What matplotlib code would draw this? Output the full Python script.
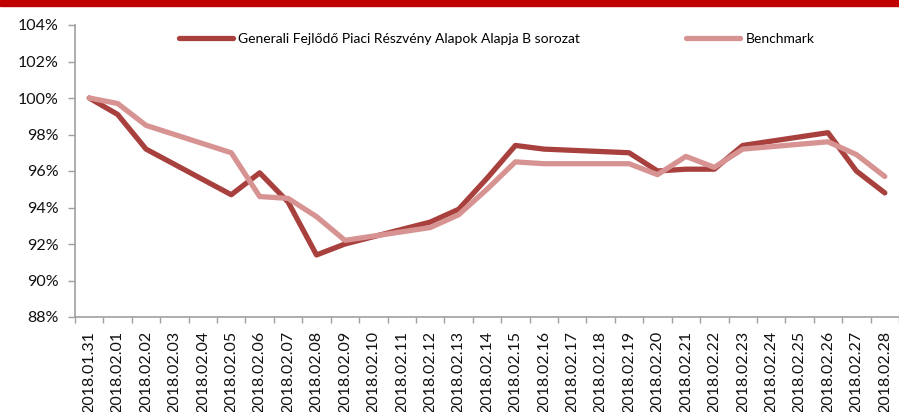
import matplotlib
matplotlib.use("Agg")
import matplotlib.pyplot as plt
from matplotlib.patches import Rectangle
from matplotlib.ticker import FixedLocator, FuncFormatter

plt.rcParams['font.family'] = ['Lato', 'DejaVu Sans']

# naptári napok a vízszintes tengelyen
labels = ["2018.01.31", "2018.02.01", "2018.02.02", "2018.02.03", "2018.02.04",
          "2018.02.05", "2018.02.06", "2018.02.07", "2018.02.08", "2018.02.09",
          "2018.02.10", "2018.02.11", "2018.02.12", "2018.02.13", "2018.02.14",
          "2018.02.15", "2018.02.16", "2018.02.17", "2018.02.18", "2018.02.19",
          "2018.02.20", "2018.02.21", "2018.02.22", "2018.02.23", "2018.02.24",
          "2018.02.25", "2018.02.26", "2018.02.27", "2018.02.28"]

# kereskedési napok (hétvégén nincs adat, a vonal átköti)
trade_days = ["2018.01.31", "2018.02.01", "2018.02.02", "2018.02.05", "2018.02.06",
              "2018.02.07", "2018.02.08", "2018.02.09", "2018.02.12", "2018.02.13",
              "2018.02.14", "2018.02.15", "2018.02.16", "2018.02.19", "2018.02.20",
              "2018.02.21", "2018.02.22", "2018.02.23", "2018.02.26", "2018.02.27",
              "2018.02.28"]

fund = [100.0, 99.1, 97.2, 94.7, 95.9, 94.3, 91.4, 92.0, 93.2, 93.9, 95.6,
        97.4, 97.2, 97.0, 96.0, 96.1, 96.1, 97.4, 98.1, 96.0, 94.8]
bench = [100.0, 99.7, 98.5, 97.0, 94.6, 94.5, 93.5, 92.2, 92.9, 93.6, 95.0,
         96.5, 96.4, 96.4, 95.8, 96.8, 96.2, 97.2, 97.6, 96.9, 95.7]

fund_name = "Generali Fejlődő Piaci Részvény Alapok Alapja B sorozat"
bench_name = "Benchmark"

x = [labels.index(d) for d in trade_days]

fig = plt.figure(figsize=(8.99, 4.12), dpi=100)
# piros csík a lap tetején
fig.patches.append(Rectangle((0, 1 - 5.5 / 412), 1, 5.5 / 412, transform=fig.transFigure,
                             color="#C00000", zorder=0))

ax = fig.add_axes([75 / 899, 1 - 317 / 412, 824 / 899, 292 / 412])

ax.plot(x, fund, color="#A8403E", lw=3.8, solid_capstyle="round",
        solid_joinstyle="round", label=fund_name)
ax.plot(x, bench, color="#D79392", lw=3.8, solid_capstyle="round",
        solid_joinstyle="round", label=bench_name)

ax.set_xlim(-0.5, len(labels) - 0.5)
ax.set_ylim(88, 104)
ax.set_yticks(range(88, 105, 2))
ax.yaxis.set_major_formatter(FuncFormatter(lambda v, p: "%d%%" % v))

# feliratok a kategóriák közepén, osztásjelek a határokon
ax.set_xticks(range(len(labels)))
ax.set_xticklabels(labels, rotation=90)
ax.xaxis.set_minor_locator(FixedLocator([i - 0.5 for i in range(len(labels) + 1)]))
ax.tick_params(axis="x", which="major", length=0, pad=10, labelsize=11.5, labelcolor="#111111")
ax.tick_params(axis="x", which="minor", length=4, width=1, color="#A0A0A0")
ax.tick_params(axis="y", length=5, width=1, color="#A0A0A0", pad=7, labelsize=11.5,
               labelcolor="#111111")

for s in ["top", "right"]:
    ax.spines[s].set_visible(False)
for s in ["left", "bottom"]:
    ax.spines[s].set_color("#A0A0A0")
    ax.spines[s].set_linewidth(1.2)

leg = ax.legend(loc="center", bbox_to_anchor=(0.5115, 0.952), ncol=2, frameon=False,
                fontsize=10, handlelength=3.9, handletextpad=0.4, columnspacing=7.6)

fig.savefig("out.png", dpi=100)
